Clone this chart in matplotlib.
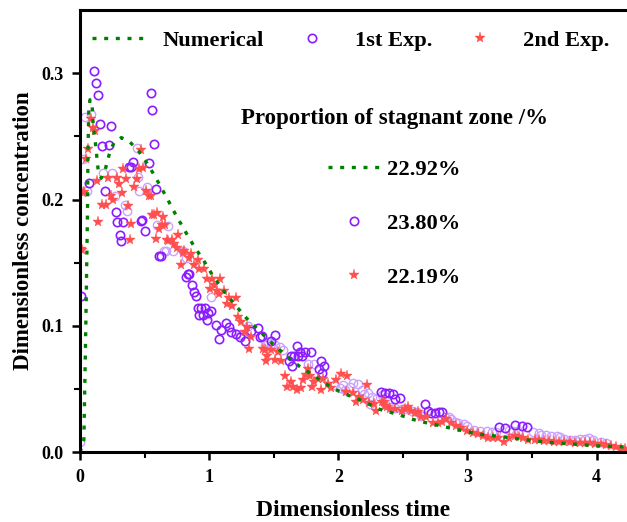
import matplotlib
matplotlib.use("Agg")
import matplotlib.pyplot as plt
from matplotlib.lines import Line2D

plt.rcParams['font.family'] = ['Liberation Serif', 'DejaVu Serif']
plt.rcParams['font.weight'] = 'bold'

# Numerical curve
num_t = [0, 0.03, 0.045, 0.058, 0.062, 0.068, 0.077, 0.093, 0.103, 0.116, 0.134, 0.142, 0.165,
         0.196, 0.232, 0.263, 0.32, 0.382, 0.457, 0.537, 0.604, 0.674, 0.741, 0.808, 0.883,
         0.956, 1.033, 1.118, 1.198, 1.29, 1.39, 1.50, 1.59, 1.70, 1.82, 1.95, 2.08, 2.18,
         2.32, 2.46, 2.61, 2.775, 2.935, 3.1, 3.27, 3.44, 3.62, 3.79, 3.98, 4.19, 4.23]
num_c = [0, 0.01, 0.10, 0.19, 0.24, 0.27, 0.279, 0.277, 0.257, 0.248, 0.23, 0.222, 0.217,
         0.224, 0.238, 0.245, 0.249, 0.246, 0.238, 0.226, 0.214, 0.201, 0.188, 0.176, 0.163,
         0.152, 0.139, 0.127, 0.117, 0.106, 0.096, 0.085, 0.077, 0.068, 0.06, 0.051, 0.045, 0.041,
         0.034, 0.030, 0.025, 0.0213, 0.0176, 0.0142, 0.0123, 0.010, 0.0079, 0.0068, 0.0052, 0.0044, 0.0042]

# 1st experiment (dark markers)
exp1_t = [0.01, 0.108, 0.126, 0.139, 0.547, 0.56, 0.155, 0.237, 0.576, 0.224, 0.168, 0.408, 0.392,
          0.382, 0.535, 0.591, 0.196, 0.07, 0.281, 0.477, 0.29, 0.336, 0.31, 0.318, 0.473, 0.504,
          0.61, 0.63, 0.834, 0.847, 0.82, 0.868, 0.886, 0.899, 0.912, 0.94, 0.97, 1.015, 0.925,
          0.955, 0.99, 0.98, 1.055, 1.093, 1.08, 1.132, 1.157, 1.17, 1.21, 1.24, 1.274, 1.326,
          1.377, 1.39, 1.506, 1.41, 1.48, 1.68, 1.70, 1.74, 1.786, 1.72, 1.69, 1.635, 1.66, 1.617,
          1.643, 1.866, 1.89, 1.848, 1.875, 2.33, 2.36, 2.39, 2.42, 2.44, 2.475, 2.67, 2.695,
          2.72, 2.75, 2.78, 2.8, 3.245, 3.29, 3.365, 3.42, 3.457]
exp1_c = [0.124, 0.302, 0.292, 0.283, 0.284, 0.271, 0.26, 0.258, 0.244, 0.243, 0.242, 0.23, 0.226,
          0.226, 0.229, 0.208, 0.207, 0.213, 0.190, 0.184, 0.182, 0.182, 0.172, 0.167, 0.183, 0.175,
          0.155, 0.155, 0.141, 0.141, 0.139, 0.132, 0.127, 0.124, 0.114, 0.114, 0.114, 0.112, 0.109,
          0.109, 0.11, 0.105, 0.101, 0.097, 0.09, 0.102, 0.099, 0.095, 0.094, 0.091, 0.088, 0.096,
          0.098, 0.091, 0.093, 0.092, 0.088, 0.084, 0.079, 0.079, 0.079, 0.076, 0.076, 0.076, 0.076, 0.072,
          0.068, 0.072, 0.068, 0.066, 0.063, 0.048, 0.047, 0.047, 0.046, 0.042, 0.043, 0.038, 0.033,
          0.031, 0.031, 0.032, 0.032, 0.02, 0.019, 0.0216, 0.021, 0.0203]

# 1st experiment (faint markers)
exp1b_t = [0.0, 0.041, 0.088, 0.444, 0.25, 0.18, 0.452, 0.057, 0.026, 0.522, 0.46, 0.27, 0.349,
           0.367, 0.6, 0.68, 0.65, 0.666, 0.718, 0.795, 0.82, 1.015, 1.3, 1.25, 1.455, 1.48,
           1.43, 1.51, 1.55, 1.57, 1.765, 1.81, 1.97, 2.01, 2.05, 2.09, 2.11, 2.15, 2.18, 2.04,
           2.2, 2.23, 2.26, 2.30, 2.34, 2.37, 2.243, 2.36, 2.40, 2.44, 2.49, 2.53, 2.57, 2.61,
           2.64, 2.825, 2.86, 2.87, 2.9, 2.93, 2.97, 3.0, 3.05, 3.1, 3.15, 3.19, 3.22, 3.32, 3.35,
           3.39, 3.51, 3.55, 3.57, 3.61, 3.65, 3.69, 3.72, 3.75, 3.79, 3.83, 3.87, 3.91, 3.94,
           3.97, 4.03, 4.07]
exp1b_c = [0.008, 0.265, 0.268, 0.241, 0.221, 0.221, 0.218, 0.207, 0.232, 0.21, 0.207, 0.203, 0.196,
           0.191, 0.18, 0.179, 0.159, 0.159, 0.159, 0.159, 0.154, 0.123, 0.1, 0.093, 0.087, 0.086,
           0.085, 0.085, 0.083, 0.081, 0.07, 0.07, 0.053, 0.051, 0.049, 0.052, 0.055, 0.054, 0.049, 0.053,
           0.046, 0.047, 0.044, 0.043, 0.045, 0.044, 0.038, 0.038, 0.036, 0.035, 0.034, 0.034, 0.033, 0.032,
           0.029, 0.028, 0.028, 0.026, 0.024, 0.023, 0.022, 0.021, 0.018, 0.017, 0.017, 0.016, 0.016, 0.0176, 0.017,
           0.017, 0.016, 0.015, 0.0137, 0.0137, 0.0129, 0.0129, 0.0124, 0.0103, 0.0098, 0.0098, 0.0103, 0.0103, 0.011,
           0.0098, 0.0084, 0.0076]

# 2nd experiment
exp2_t = [0.008, 0.015, 0.02, 0.031, 0.044, 0.062, 0.082, 0.103, 0.113, 0.134, 0.142, 0.172, 0.198,
          0.217, 0.237, 0.259, 0.284, 0.305, 0.322, 0.336, 0.354, 0.372, 0.39, 0.395, 0.418, 0.439,
          0.457, 0.47, 0.49, 0.509, 0.535, 0.55, 0.56, 0.572, 0.588, 0.596, 0.615, 0.635, 0.645,
          0.661, 0.674, 0.684, 0.71, 0.731, 0.749, 0.762, 0.782, 0.8, 0.808, 0.841, 0.86, 0.886,
          0.912, 0.925, 0.963, 0.98, 1.003, 1.02, 1.04, 1.06, 1.074, 1.087, 1.118, 1.14, 1.157,
          1.18, 1.204, 1.226, 1.25, 1.28, 1.29, 1.306, 1.326, 1.414, 1.43, 1.44, 1.45, 1.48, 1.506,
          1.53, 1.555, 1.585, 1.6, 1.635, 1.648, 1.68, 1.71, 1.725, 1.746, 1.765, 1.777, 1.8, 1.815,
          1.84, 1.866, 1.88, 1.92, 1.945, 1.985, 2.02, 2.06, 2.066, 2.11, 2.14, 2.16, 2.19, 2.22,
          2.24, 2.28, 2.29, 2.34, 2.35, 2.36, 2.38, 2.40, 2.44, 2.49, 2.52, 2.54, 2.565, 2.59, 2.62,
          2.64, 2.68, 2.73, 2.77, 2.8, 2.83, 2.87, 2.91, 2.95, 3.0, 3.04, 3.08, 3.12, 3.16, 3.2,
          3.24, 3.28, 3.32, 3.37, 3.40, 3.43, 3.47, 3.52, 3.55, 3.59, 3.63, 3.67, 3.71, 3.75, 3.79,
          3.83, 3.87, 3.91, 3.95, 3.99, 4.03, 4.07, 4.11, 4.15, 4.19, 4.22]
exp2_c = [0.161, 0.16, 0.205, 0.206, 0.232, 0.24, 0.264, 0.257, 0.254, 0.215, 0.182, 0.196, 0.196,
          0.217, 0.203, 0.2, 0.217, 0.212, 0.205, 0.224, 0.216, 0.195, 0.168, 0.181, 0.21, 0.216,
          0.224, 0.239, 0.225, 0.207, 0.203, 0.203, 0.188, 0.188, 0.169, 0.189, 0.177, 0.18, 0.186,
          0.18, 0.168, 0.167, 0.168, 0.165, 0.162, 0.172, 0.148, 0.158, 0.159, 0.154, 0.157, 0.148,
          0.152, 0.145, 0.145, 0.137, 0.129, 0.137, 0.132, 0.128, 0.125, 0.137, 0.128, 0.117, 0.122,
          0.116, 0.122, 0.107, 0.103, 0.095, 0.099, 0.082, 0.091, 0.082, 0.081, 0.072, 0.076, 0.081, 0.073,
          0.079, 0.072, 0.06, 0.052, 0.056, 0.052, 0.049, 0.051, 0.057, 0.061, 0.066, 0.06, 0.052, 0.056,
          0.058, 0.049, 0.058, 0.054, 0.051, 0.057, 0.062, 0.048, 0.06, 0.047, 0.04, 0.044, 0.041, 0.053,
          0.039, 0.038, 0.033, 0.04, 0.04, 0.037, 0.036, 0.034, 0.034, 0.033, 0.034, 0.036, 0.033, 0.031, 0.032,
          0.028, 0.028, 0.023, 0.023, 0.024, 0.026, 0.023, 0.021, 0.019, 0.017, 0.015, 0.0145, 0.013, 0.0116, 0.011,
          0.011, 0.0084, 0.011, 0.0129, 0.012, 0.011, 0.010, 0.0097, 0.0097, 0.009, 0.009, 0.0085, 0.0082, 0.0085, 0.0082,
          0.0071, 0.0071, 0.0076, 0.0071, 0.0063, 0.0067, 0.0058, 0.005, 0.004, 0.003, 0.0024]

legend_labels = ["Numerical", "1st Exp.", "2nd Exp."]
prop_labels = ["22.92%", "23.80%", "22.19%"]
prop_title = "Proportion of stagnant zone /%"

GREEN = "#008000"
PURPLE = "#8A1CFF"
LPURPLE = "#C9A3FF"
RED = "#FF4F4F"

fig = plt.figure(figsize=(6.27, 5.22), dpi=100)
ax = fig.add_axes([80/627, 1 - 452.3/522, 1 - 80/627, (452.3 - 10)/522])

ax.plot(exp1b_t, exp1b_c, linestyle='none', marker='o', ms=6, mfc='none', mec=LPURPLE, mew=1.0)
l1, = ax.plot(exp1_t, exp1_c, linestyle='none', marker='o', ms=6, mfc='none', mec=PURPLE, mew=1.2)
l2, = ax.plot(exp2_t, exp2_c, linestyle='none', marker='*', ms=8, color=RED, mec=RED, mew=0.3)
l0, = ax.plot(num_t, num_c, color=GREEN, lw=2.4, linestyle=(0, (1.2, 2.3)), dash_capstyle='butt')

ax.set_xlim(0, 4.235)
ax.set_ylim(0, 0.35)
ax.set_xticks([0, 1, 2, 3, 4])
ax.set_xticks([0.5, 1.5, 2.5, 3.5], minor=True)
ax.set_yticks([0.0, 0.1, 0.2, 0.3])
ax.set_yticklabels(["0.0", "0.1", "0.2", "0.3"])
ax.set_yticks([0.05, 0.15, 0.25], minor=True)
ax.spines['right'].set_visible(False)
for s in ['left', 'bottom', 'top']:
    ax.spines[s].set_linewidth(2.2)
ax.tick_params(which='major', direction='out', length=6, width=1.8, labelsize=13, pad=6)
ax.tick_params(which='minor', direction='out', length=4, width=1.5)
ax.tick_params(top=False, right=False)
for lab in ax.get_xticklabels() + ax.get_yticklabels():
    lab.set_fontweight('bold')

ax.set_xlabel("Dimensionless time", fontsize=17, fontweight='bold', labelpad=10)
ax.set_ylabel("Dimensionless concentration", fontsize=16.5, fontweight='bold', labelpad=5)

font16 = {'family': ['Liberation Serif'], 'weight': 'bold', 'size': 16.2}
leg1 = ax.legend([l0, l1, l2], legend_labels, loc='upper left', bbox_to_anchor=(-0.006, 0.99),
                 ncol=3, frameon=False, handlelength=2.4, handletextpad=0.7,
                 columnspacing=0.95, borderaxespad=0.3, prop=font16)
ax.add_artist(leg1)
leg2 = ax.legend([l0, l1, l2], prop_labels, loc='upper left', bbox_to_anchor=(0.257, 0.825),
                 frameon=False, handlelength=2.3, handletextpad=0.3, labelspacing=1.47,
                 title=prop_title, prop=font16,
                 title_fontproperties={'family': ['Liberation Serif'], 'weight': 'bold', 'size': 16.5})
leg2._legend_box.sep = 22

fig.savefig("out.png", dpi=100)
